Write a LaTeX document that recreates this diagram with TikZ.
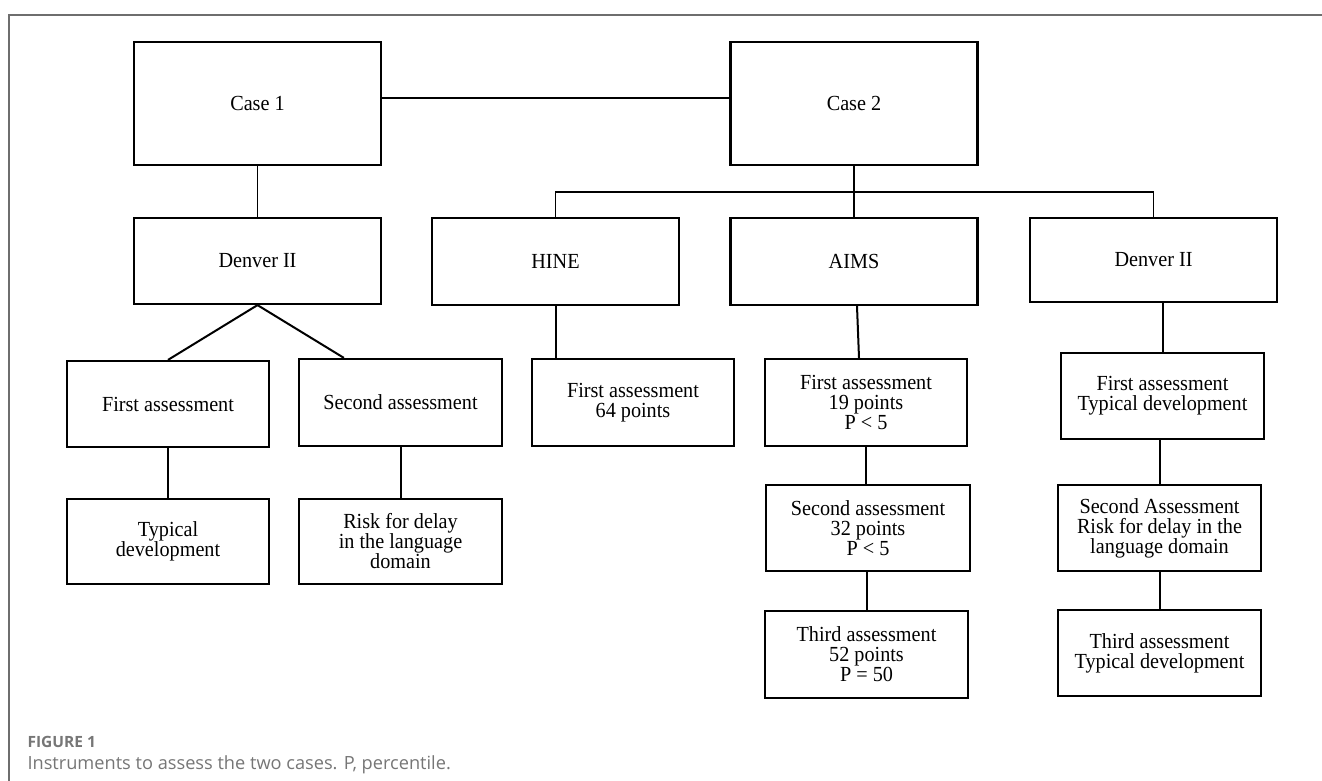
\documentclass[tikz,border=0pt]{standalone}
\usepackage{fontspec}
\usepackage{tikz}
\usepackage{xcolor}
\usetikzlibrary{calc,positioning}
\setmainfont{Liberation Serif}[FakeStretch=0.94]
\newfontfamily\capfont{Open Sans}
\definecolor{figGray}{HTML}{767676}
\definecolor{figLine}{HTML}{6E6E6E}

\begin{document}
\begin{tikzpicture}[x=1pt,y=-1pt,
    every node/.style={font=\fontsize{21.5}{20}\selectfont},
    box/.style={draw, line width=2.2pt, align=center, inner sep=0pt, minimum width=202pt, minimum height=86pt},
    wide/.style={box, minimum width=247pt},
    link/.style={line width=2pt},
    thinlink/.style={line width=1.5pt}]
    \useasboundingbox (0,0) rectangle (1322,781);
    \draw[figLine, line width=1.5pt] (9,781) -- (9,15) -- (1322,15);

    \node[wide, minimum height=123pt] (case1) at (257.5,103.5) {Case 1};
    \node[wide, minimum height=123pt] (case2) at (854,103.5) {Case 2};
    \node[wide] (dvA) at (257.5,261) {Denver II};
    \node[wide, minimum height=87pt] (hine) at (555.5,261.5) {HINE};
    \node[wide, minimum height=87pt] (aims) at (854,261.5) {AIMS};
    \node[wide, minimum height=84pt] (dvB) at (1153.5,260) {Denver II};

    \node[box] (firstA) at (168,404) {First assessment};
    \node[box, minimum width=203pt, minimum height=87pt] (secondA) at (400.5,402.5) {Second assessment};
    \node[box, minimum height=85pt] (typA) at (168,541.5) {Typical\\development};
    \node[box, minimum width=203pt, minimum height=85pt] (riskA) at (400.5,541.5) {Risk for delay\\in the language\\domain};

    \node[box, minimum height=87pt] (hineFirst) at (633,402.5) {First assessment\\64 points};

    \node[box, minimum height=87pt] (aimsFirst) at (866,402.5) {First assessment\\19 points\\P < 5};
    \node[box, minimum width=204pt] (aimsSecond) at (868,528) {Second assessment\\32 points\\P < 5};
    \node[box, minimum width=203pt, minimum height=87pt] (aimsThird) at (866.5,654.5) {Third assessment\\52 points\\P = 50};

    \node[box, minimum width=203pt] (dvbFirst) at (1162.5,396) {First assessment\\Typical development};
    \node[box, minimum width=203pt] (dvbSecond) at (1159.5,528) {Second Assessment\\Risk for delay in the\\language domain};
    \node[box, minimum width=203pt] (dvbThird) at (1159.5,653) {Third assessment\\Typical development};

    \coordinate (fork) at (854,192);

    \draw[thinlink] ([yshift=5.5pt]case1.east) -- ([yshift=5.5pt]case2.west);
    \draw[thinlink] (case1.south) -- (dvA.north);
    \draw[link] (dvA.south) -- (firstA.north);
    \draw[link] (dvA.south) -- ($(secondA.north west)+(46,0)$);
    \draw[link] (firstA.south) -- (typA.north);
    \draw[link] (secondA.south) -- (riskA.north);

    \draw[link] (case2.south) -- (fork);
    \draw[thinlink] (fork) -- (aims.north);
    \draw[thinlink] (hine.north) |- (fork) -| (dvB.north);
    \draw[link] (hine.south) -- (hine.south |- hineFirst.north);
    \draw[link] (aims.south) ++(3,0) -- ($(aims.south |- aimsFirst.north)+(5,0)$);
    \draw[link] (aimsFirst.south) -- (aimsFirst.south |- aimsSecond.north);
    \draw[link] (aimsThird.north) -- (aimsThird.north |- aimsSecond.south);
    \draw[link] (dvbFirst.north) -- (dvbFirst.north |- dvB.south);
    \draw[link] (dvbSecond.north) -- (dvbSecond.north |- dvbFirst.south);
    \draw[link] (dvbSecond.south) -- (dvbSecond.south |- dvbThird.north);

    \node[anchor=west, text=figGray, font=\capfont\bfseries\fontsize{15.5}{17}\selectfont] (figlabel) at (24,742) {FIGURE 1};
    \node[anchor=west, text=figGray, font=\capfont\fontsize{18.2}{20}\selectfont] (caption) at (24,765) {Instruments to assess the two cases. P, percentile.};
\end{tikzpicture}
\end{document}
